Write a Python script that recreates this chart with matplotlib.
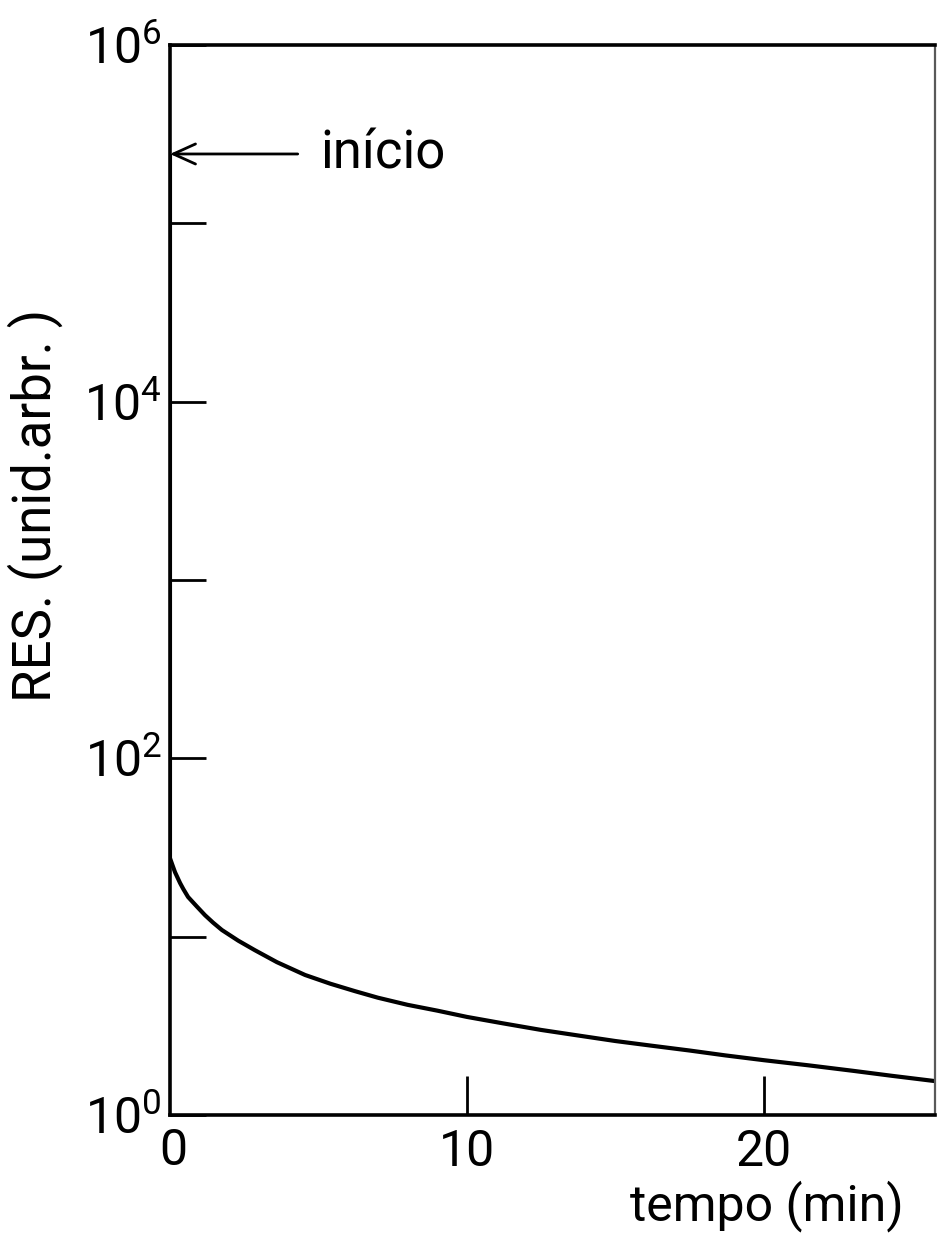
import matplotlib
matplotlib.use('Agg')
import matplotlib.pyplot as plt

# values
tempo = [0, 0, 0.08, 0.17, 0.34, 0.45, 0.61, 0.9, 1.18, 1.45, 1.75, 2.3, 2.86, 3.6, 4.55,
         5.4, 6.23, 7, 8, 9, 10, 11.2, 12.5, 13.7, 15, 16.2, 17.5, 18.7, 20, 21.5, 23, 24.3, 25.76]
res = [2.45e5, 27.6, 25.3, 23, 20, 18.5, 16.7, 14.8, 13.2, 12, 10.9, 9.5, 8.4, 7.2, 6.1,
       5.45, 4.95, 4.55, 4.15, 3.85, 3.55, 3.27, 3.0, 2.8, 2.6, 2.45, 2.3, 2.16, 2.03, 1.9, 1.77, 1.66, 1.55]
inicio = 2.45e5

x_ticks = [10, 20]
x_tick_labels = ['10', '20']
x_zero_label = '0'
y_ticks = [1e0, 1e1, 1e2, 1e3, 1e4, 1e5, 1e6]
y_tick_labels = ['10$^0$', '', '10$^2$', '', '10$^4$', '', '10$^6$']

plt.rcParams['font.family'] = ['Roboto', 'DejaVu Sans']
plt.rcParams['mathtext.fontset'] = 'custom'
plt.rcParams['mathtext.rm'] = 'Roboto'
plt.rcParams['mathtext.it'] = 'Roboto'

fig = plt.figure(figsize=(9.38, 12.41), dpi=100)
ax = fig.add_axes([0.1812, 0.1015, 0.8156, 0.8622])

ax.plot(tempo, res, color='black', lw=3.0, solid_capstyle='butt', solid_joinstyle='round')

ax.set_yscale('log')
ax.set_xlim(0, 25.76)
ax.set_ylim(1, 1e6)

for side in ['left', 'bottom', 'top']:
    ax.spines[side].set_linewidth(2.6)
ax.spines['right'].set_linewidth(1.6)
ax.spines['right'].set_color('0.35')

ax.set_yticks(y_ticks)
ax.set_yticklabels(y_tick_labels)
ax.yaxis.set_minor_locator(matplotlib.ticker.NullLocator())
ax.set_xticks(x_ticks)
ax.set_xticklabels(x_tick_labels)
ax.tick_params(axis='y', direction='in', length=26, width=2, labelsize=36, pad=6)
ax.tick_params(axis='x', direction='in', length=28, width=2, labelsize=36, pad=9)
ax.tick_params(axis='x', which='minor', bottom=False)

# the "0" under the corner has no tick mark
ax.text(0.005, -0.011, x_zero_label, transform=ax.transAxes, ha='center', va='top', fontsize=36)

ax.annotate('início', xy=(0, inicio), xytext=(5.05, inicio),
            fontsize=38, ha='left', va='center',
            arrowprops=dict(arrowstyle='->,head_length=0.42,head_width=0.19', color='black', lw=2,
                            shrinkA=14, shrinkB=0))

ax.set_xlabel('tempo (min)', fontsize=36)
ax.xaxis.set_label_coords(0.78, -0.085)
ax.xaxis.label.set_va('center')
ax.set_ylabel('RES. (unid.arbr. )', fontsize=38)
ax.yaxis.set_label_coords(-0.176, 0.57)
ax.yaxis.label.set_va('center')

fig.savefig('out.png', dpi=100)
